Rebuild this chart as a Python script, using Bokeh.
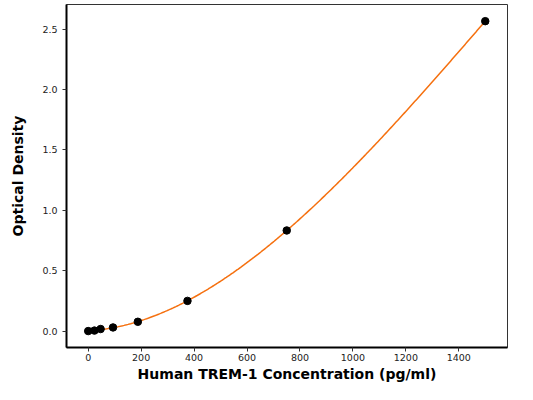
import numpy as np
from bokeh.plotting import figure
from bokeh.models import Range1d, FixedTicker, CustomJSTickFormatter
from bokeh.embed import file_html
from bokeh.resources import INLINE

# Data
concentration = [0, 23.44, 46.88, 93.75, 187.5, 375, 750, 1500]
od = [0.0, 0.004, 0.017, 0.030, 0.077, 0.250, 0.833, 2.566]
x_ticks = [0, 200, 400, 600, 800, 1000, 1200, 1400]
y_ticks = [0.0, 0.5, 1.0, 1.5, 2.0, 2.5]
x_title = "Human TREM-1 Concentration (pg/ml)"
y_title = "Optical Density"

# Fitted standard curve (least-squares cubic through the measured points)
coef = np.polyfit(concentration, od, 3)
fit_x = np.linspace(min(concentration), max(concentration), 300)
fit_y = np.polyval(coef, fit_x)

p = figure(width=517, height=384, output_backend="svg", toolbar_location=None,
           x_range=Range1d(-82, 1584), y_range=Range1d(-0.136, 2.704),
           min_border_left=66, min_border_right=10, min_border_top=4,
           min_border_bottom=0)

p.line(fit_x, fit_y, line_color="#f5700f", line_width=1.5)
p.scatter(concentration, od, size=7.5, fill_color="black", line_color="black")

p.xgrid.visible = False
p.ygrid.visible = False
p.outline_line_color = "#333333"
p.outline_line_width = 1
p.background_fill_color = "white"
p.border_fill_color = "white"

for ax in (p.xaxis[0], p.yaxis[0]):
    ax.axis_line_color = "black"
    ax.axis_line_width = 2
    ax.major_tick_line_color = "#333333"
    ax.major_tick_line_width = 1
    ax.major_tick_out = 4
    ax.major_tick_in = 0
    ax.minor_tick_line_color = None
    ax.major_label_text_font = "DejaVu Sans"
    ax.major_label_text_font_size = "9.5px"
    ax.major_label_text_color = "#222222"
    ax.axis_label_text_font = "DejaVu Sans"
    ax.axis_label_text_font_style = "bold"
    ax.axis_label_text_font_size = "14px"
    ax.axis_label_text_color = "black"

p.xaxis[0].ticker = FixedTicker(ticks=x_ticks)
p.yaxis[0].ticker = FixedTicker(ticks=y_ticks)
p.yaxis[0].formatter = CustomJSTickFormatter(code="return tick.toFixed(1);")
p.xaxis[0].axis_label = x_title
p.yaxis[0].axis_label = y_title
p.xaxis[0].major_label_standoff = 2
p.yaxis[0].major_label_standoff = 5
p.xaxis[0].axis_label_standoff = 2
p.yaxis[0].axis_label_standoff = 13

open("out.html", "w").write(file_html(p, INLINE))
